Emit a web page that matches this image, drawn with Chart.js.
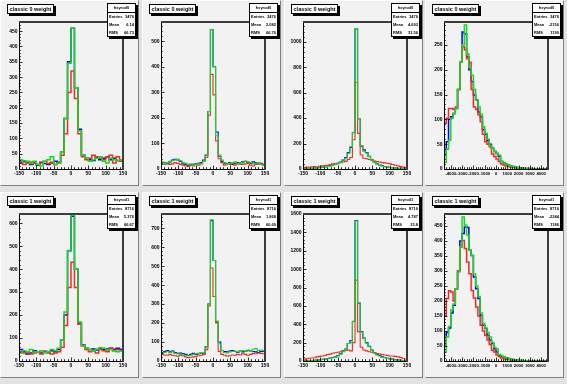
<!DOCTYPE html>
<html>
<head>
<meta charset="utf-8">
<script src="https://cdn.jsdelivr.net/npm/chart.js@4.4.1/dist/chart.umd.min.js"></script>
<style>
body { margin: 0; width: 567px; height: 384px; overflow: hidden; position: relative; background: #e2e2e2; font-family: "Liberation Sans", Arial, sans-serif; }
.cell { position: absolute; width: 142px; height: 192px; }
.pad { position: absolute; left: 0; top: 0; width: 137px; height: 184px; background: #f2f2f2;
       border-left: 1px solid #fff; border-top: 1px solid #fff; border-right: 1px solid #808080; border-bottom: 1px solid #808080; }
.cell canvas { position: absolute; left: 0; top: 0; }
.title { position: absolute; left: 7px; top: 4px; width: 45px; height: 8px; background: #fff; border: 1px solid #000;
         box-shadow: 2px 2px 0 #000; font-size: 5.5px; font-weight: bold; line-height: 8px; text-align: center; white-space: nowrap; }
.stats { position: absolute; left: 107px; top: 3px; width: 27px; height: 32px; background: #fff; border: 1px solid #000;
         box-shadow: 2px 2px 0 #000; font-size: 4px; font-weight: bold; white-space: nowrap; }
.stats .hd { height: 8px; line-height: 8px; text-align: center; border-bottom: 1px solid #000; }
.stats .row { display: flex; justify-content: space-between; padding: 0 1px; height: 8px; line-height: 8px; }
</style>
</head>
<body>
<script>
// histogram contents (bin by bin), three overlaid series per pad
const p1Blue  = [20,25,22,15,20,12,22,18,15,20,25,22,55,165,350,460,265,130,45,35,30,28,38,30,35,40,30,35,28,25];
const p1Red   = [25,15,20,22,18,15,20,25,18,22,15,20,45,115,250,320,230,115,40,30,35,45,40,35,30,40,45,20,40,25];
const p1Green = [30,22,25,18,25,15,10,25,30,40,15,20,55,165,345,460,265,125,45,35,25,30,35,40,25,20,35,30,28,30];

const p2Blue  = [25,20,22,28,35,38,35,30,20,18,15,15,18,20,22,25,35,55,225,545,400,145,50,30,22,20,25,18,22,25,20,28,30,25,22,28,25,20,22,18];
const p2Red   = [22,25,20,18,20,25,22,18,15,12,10,15,12,18,15,20,30,45,210,370,290,110,40,25,15,20,18,22,15,20,25,18,20,22,15,12,18,22,20,15];
const p2Green = [28,22,25,30,32,35,38,32,25,22,18,20,15,18,20,22,30,55,225,545,400,130,55,35,25,18,22,25,28,20,22,25,30,28,25,20,22,25,18,15];

const p3Blue  = [3,4,5,6,8,10,12,15,18,22,25,30,38,45,55,70,90,130,170,285,1100,395,180,150,130,100,75,55,42,32,25,20,15,12,10,8,6,5,4,3];
const p3Red   = [12,15,14,18,20,16,22,25,28,30,35,40,38,45,50,55,60,75,90,230,680,280,110,85,80,75,70,62,58,55,50,48,45,40,35,30,25,20,15,12];
const p3Green = [2,3,4,5,7,9,11,14,17,20,24,28,35,42,52,65,85,123,175,288,1103,397,183,140,125,97,72,52,40,30,24,18,14,11,9,7,5,4,3,2];

const p4Blue  = [28,55,100,105,112,122,160,216,276,272,226,200,176,149,139,115,105,79,70,58,50,42,35,31,25,15,12,10,8,6,5,4,3,2,2,1,1,0,1,0,0,0,0,0,0,0];
const p4Red   = [92,102,122,122,120,125,160,216,246,240,222,215,160,125,120,109,95,70,55,50,45,30,25,20,15,10,8,6,5,4,3,3,2,2,1,1,0,0,0,0,0,0,0,0,0,0];
const p4Green = [13,40,58,102,112,122,160,216,250,290,232,205,189,160,139,125,110,85,72,60,48,42,35,31,28,15,12,10,8,6,5,4,3,2,2,1,1,1,0,0,0,0,0,0,0,0];

const p5Blue  = [50,40,30,35,45,40,35,42,38,45,40,50,90,200,480,630,400,165,70,55,50,52,48,55,50,52,55,50,55,50];
const p5Red   = [40,35,38,30,35,38,30,40,35,30,35,40,60,155,320,430,320,160,65,50,40,45,35,50,45,40,55,45,50,45];
const p5Green = [35,45,40,50,38,40,45,35,40,50,45,55,90,213,481,636,400,170,68,55,50,45,52,58,55,48,50,45,40,45];

const p6Blue  = [45,50,55,48,52,45,40,42,38,35,30,35,40,35,38,42,40,75,300,740,530,205,100,55,50,48,52,55,50,45,52,48,50,55,52,50,48,45,50,52];
const p6Red   = [35,32,30,35,30,28,25,30,28,22,18,20,22,25,28,30,35,60,290,490,340,200,50,35,30,25,28,32,30,35,32,38,35,30,35,40,38,42,40,38];
const p6Green = [40,45,50,45,48,40,38,35,32,30,28,30,35,38,40,45,42,74,298,745,530,210,91,55,45,42,48,50,52,48,50,55,52,58,50,62,65,55,58,55];

const p7Blue  = [3,4,5,6,8,10,14,18,22,28,32,38,45,60,80,110,130,190,220,430,1530,630,320,250,200,160,120,90,70,60,45,38,30,25,20,15,12,8,6,4];
const p7Red   = [20,25,30,32,35,45,50,55,60,70,75,85,90,95,100,110,115,120,110,200,880,320,150,120,110,100,95,90,80,75,70,65,60,55,55,50,45,40,30,22];
const p7Green = [2,3,4,5,7,9,12,16,20,25,30,35,42,55,75,100,125,190,200,433,1523,633,316,244,195,155,115,85,65,55,40,35,28,22,18,14,10,7,5,3];

const p8Blue  = [50,95,110,160,186,241,300,400,425,447,445,369,352,280,241,208,152,119,108,86,70,58,41,30,19,15,13,10,8,6,5,4,3,2,2,1,1,0,0,0,0,0,0,0,0,0];
const p8Red   = [152,208,234,230,200,241,300,380,402,375,330,291,235,210,180,150,119,100,85,70,55,36,30,20,15,10,8,6,5,4,3,2,2,1,1,0,0,0,0,0,0,0,0,0,0,0];
const p8Green = [30,80,115,170,190,241,297,380,480,453,420,369,352,290,250,215,160,125,110,95,80,62,45,40,22,18,14,10,8,6,5,4,3,2,2,1,1,1,0,0,0,0,0,0,0,0];

// pad texts
const titles = ['classic 0 weight', 'classic 0 weight', 'classic 0 weight', 'classic 0 weight',
                'classic 1 weight', 'classic 1 weight', 'classic 1 weight', 'classic 1 weight'];
const statNames   = ['hxyrod0', 'hxyrod0', 'hxyrod0', 'hxyrod0', 'hxyrod1', 'hxyrod1', 'hxyrod1', 'hxyrod1'];
const statEntries = ['3476', '3476', '3476', '3476', '8716', '8716', '8716', '8716'];
const statMeans   = ['6.14', '2.082', '4.693', '-2156', '5.376', '1.868', '4.787', '-2244'];
const statRms     = ['66.73', '66.76', '31.56', '1190', '66.67', '66.69', '33.8', '1186'];

// axis ranges and tick steps
const xMins   = [-150, -150, -150, -4600, -150, -150, -150, -4600];
const xMaxs   = [150, 150, 150, 4600, 150, 150, 150, 4600];
const xSteps  = [50, 50, 50, 1000, 50, 50, 50, 1000];
const binW    = [10, 7.5, 7.5, 200, 10, 7.5, 7.5, 200];
const yMaxs   = [480, 575, 1155, 296, 640, 775, 1600, 490];
const ySteps  = [50, 100, 200, 50, 100, 100, 200, 50];

const blues  = [p1Blue, p2Blue, p3Blue, p4Blue, p5Blue, p6Blue, p7Blue, p8Blue];
const reds   = [p1Red, p2Red, p3Red, p4Red, p5Red, p6Red, p7Red, p8Red];
const greens = [p1Green, p2Green, p3Green, p4Green, p5Green, p6Green, p7Green, p8Green];

function histPoints(vals, lo, w) {
    const pts = vals.map((v, i) => ({ x: lo + i * w, y: v }));
    pts.push({ x: lo + vals.length * w, y: vals[vals.length - 1] });
    return pts;
}

// ticks on every multiple of the step inside the range
function stepTicks(step) {
    return scale => {
        const out = [];
        for (let k = Math.ceil(scale.min / step - 1e-9); k * step <= scale.max + 1e-9; k++) out.push({ value: k * step });
        scale.ticks = out;
    };
}

// ROOT-like frame with ticks pointing inwards
const rootFrame = {
    id: 'rootFrame',
    afterDatasetsDraw(chart) {
        const { ctx, chartArea: a, scales: { x, y } } = chart;
        const xs = chart.options.scales.x.stepSize, ys = chart.options.scales.y.stepSize;
        ctx.save();
        ctx.strokeStyle = '#000';
        ctx.lineWidth = 0.8;
        ctx.beginPath();
        for (let k = Math.ceil(x.min / (xs / 5) - 1e-9); k * xs / 5 <= x.max + 1e-9; k++) {
            const px = Math.round(x.getPixelForValue(k * xs / 5)) + 0.5;
            ctx.moveTo(px, a.bottom);
            ctx.lineTo(px, a.bottom - (k % 5 === 0 ? 3.5 : 1.8));
        }
        for (let k = 0; k * ys / 5 <= y.max + 1e-9; k++) {
            const py = Math.round(y.getPixelForValue(k * ys / 5)) + 0.5;
            ctx.moveTo(a.left, py);
            ctx.lineTo(a.left + (k % 5 === 0 ? 3.5 : 1.8), py);
        }
        ctx.stroke();
        ctx.lineWidth = 1;
        ctx.beginPath();
        ctx.moveTo(a.left + 0.5, a.top);
        ctx.lineTo(a.left + 0.5, a.bottom + 0.5);
        ctx.lineTo(a.right, a.bottom + 0.5);
        ctx.stroke();
        ctx.strokeStyle = '#3c3c3c';
        ctx.lineWidth = 2;
        ctx.beginPath();
        ctx.moveTo(a.left, a.top);
        ctx.lineTo(a.right, a.top);
        ctx.lineTo(a.right, a.bottom + 1);
        ctx.stroke();
        ctx.restore();
    }
};

const tickFont = { family: '"Liberation Sans", Arial, sans-serif', size: 5, weight: 'bold' };

for (let i = 0; i < 8; i++) {
    const col = i % 4, row = Math.floor(i / 4);
    const cell = document.createElement('div');
    cell.className = 'cell';
    cell.style.left = Math.round(col * 141.75) + 'px';
    cell.style.top = (row * 192) + 'px';
    cell.innerHTML =
        '<div class="pad"></div><canvas width="142" height="190"></canvas>' +
        '<div class="title">' + titles[i] + '</div>' +
        '<div class="stats"><div class="hd">' + statNames[i] + '</div>' +
        '<div class="row"><span>Entries</span><span>' + statEntries[i] + '</span></div>' +
        '<div class="row"><span>Mean</span><span>' + statMeans[i] + '</span></div>' +
        '<div class="row"><span>RMS</span><span>' + statRms[i] + '</span></div></div>';
    document.body.appendChild(cell);

    const lw = (i % 4 === 0 || i % 4 === 3) ? 1.5 : 1.1;
    const mk = (vals, color) => ({
        data: histPoints(vals, xMins[i], binW[i]),
        borderColor: color, borderWidth: lw, stepped: true, pointRadius: 0, fill: false
    });
    const wide = xSteps[i] >= 1000;

    // Chart.js paints the first dataset on top: green over red over blue
    new Chart(cell.querySelector('canvas'), {
        type: 'line',
        data: { datasets: [mk(greens[i], '#16dc16'), mk(reds[i], '#ff2424'), mk(blues[i], '#0000ff')] },
        options: {
            responsive: false,
            animation: false,
            layout: { padding: { left: 0, right: 19, top: 22, bottom: 0 } },
            plugins: { legend: { display: false }, tooltip: { enabled: false } },
            scales: {
                x: {
                    type: 'linear', min: xMins[i], max: xMaxs[i], stepSize: xSteps[i],
                    grid: { display: false, drawTicks: false }, border: { display: false },
                    afterFit: s => { s.height = 21; },
                    afterBuildTicks: stepTicks(xSteps[i]),
                    ticks: { autoSkip: false, maxRotation: 0, minRotation: 0, padding: 2, color: '#000',
                             font: wide ? { ...tickFont, size: 4.3 } : tickFont, callback: v => String(v) }
                },
                y: {
                    type: 'linear', min: 0, max: yMaxs[i], stepSize: ySteps[i],
                    grid: { display: false, drawTicks: false }, border: { display: false },
                    afterFit: s => { s.width = 19; },
                    afterBuildTicks: stepTicks(ySteps[i]),
                    ticks: { autoSkip: false, padding: 1.5, color: '#000', font: tickFont, callback: v => String(v) }
                }
            }
        },
        plugins: [rootFrame]
    });
}
</script>
</body>
</html>
